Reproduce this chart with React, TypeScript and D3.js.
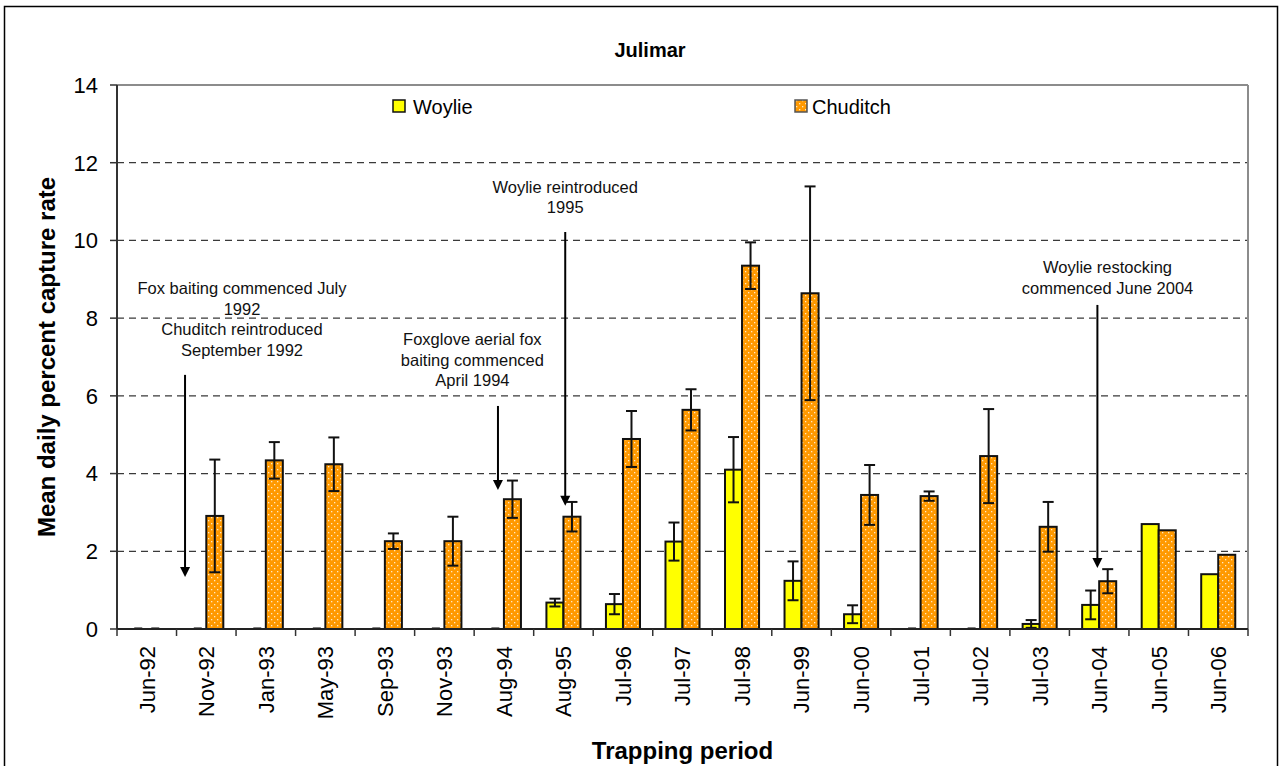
import React from "react";
import * as d3 from "d3";

// Trapping periods (x axis)
const categories = [
  "Jun-92", "Nov-92", "Jan-93", "May-93", "Sep-93", "Nov-93", "Aug-94", "Aug-95",
  "Jul-96", "Jul-97", "Jul-98", "Jun-99", "Jun-00", "Jul-01", "Jul-02", "Jul-03",
  "Jun-04", "Jun-05", "Jun-06",
];

// Mean daily percent capture rate and standard error, per species
const woylie = [0, 0, 0, 0, 0, 0, 0, 0.68, 0.64, 2.25, 4.1, 1.24, 0.38, 0, 0, 0.13, 0.62, 2.7, 1.41];
const woylieErr = [0, 0, 0, 0, 0, 0, 0, 0.1, 0.26, 0.49, 0.84, 0.5, 0.23, 0, 0, 0.1, 0.37, 0, 0];
const chuditch = [0, 2.91, 4.34, 4.24, 2.26, 2.26, 3.34, 2.89, 4.89, 5.64, 9.35, 8.64, 3.45, 3.42, 4.45, 2.63, 1.23, 2.54, 1.91];
const chuditchErr = [0, 1.45, 0.47, 0.69, 0.2, 0.63, 0.48, 0.38, 0.72, 0.53, 0.6, 2.75, 0.77, 0.12, 1.21, 0.64, 0.31, 0, 0];

const yTicks = [0, 2, 4, 6, 8, 10, 12, 14];

// Management events: text lines centred at a category-index position,
// with an arrow pointing down to a value.
const annotations = [
  { lines: ["Fox baiting commenced July", "1992", "Chuditch reintroduced", "September 1992"], tx: 2.1, ty: 8.62, arrowX: 1.143, arrowFrom: 6.54, arrowTo: 1.34 },
  { lines: ["Foxglove aerial fox", "baiting commenced", "April 1994"], tx: 5.97, ty: 7.31, arrowX: 6.4, arrowFrom: 5.74, arrowTo: 3.58 },
  { lines: ["Woylie reintroduced", "1995"], tx: 7.53, ty: 11.23, arrowX: 7.53, arrowFrom: 10.22, arrowTo: 3.17 },
  { lines: ["Woylie restocking", "commenced June 2004"], tx: 16.64, ty: 9.15, arrowX: 16.47, arrowFrom: 8.34, arrowTo: 1.57 },
];

const series = [
  { name: "Woylie", values: woylie, errors: woylieErr, fill: "#FFFF00" },
  { name: "Chuditch", values: chuditch, errors: chuditchErr, fill: "url(#dots)" },
];

const W = 1283;
const H = 766;
const left = 117;
const right = 1248;
const top = 85;
const bottom = 629;
const FONT = "'Liberation Sans', Arial, sans-serif";

export default function App() {
  const x0 = d3.scaleBand<string>().domain(categories).range([left, right]).padding(0);
  const bw = x0.bandwidth();
  const groupW = bw * 0.572;
  const x1 = d3
    .scaleBand<string>()
    .domain(series.map((s) => s.name))
    .range([bw / 2 - groupW / 2, bw / 2 + groupW / 2])
    .padding(0);
  const xIdx = d3.scaleLinear().domain([0, categories.length]).range([left, right]);
  const y = d3.scaleLinear().domain([0, 14]).range([bottom, top]);
  const lineGap = 20.6;

  return (
    <svg
      width={W}
      height={H}
      style={{ position: "absolute", left: 0, top: 0, background: "#fff" }}
      fontFamily={FONT}
    >
      <defs>
        <pattern id="dots" width="6" height="6" patternUnits="userSpaceOnUse">
          <rect width="6" height="6" fill="#FF9900" />
          <rect x="1" y="1" width="1.3" height="1.3" fill="#FFE9C4" />
          <rect x="4" y="4" width="1.3" height="1.3" fill="#FFE9C4" />
        </pattern>
      </defs>

      {/* outer chart frame */}
      <rect x={4.5} y={6.5} width={1273} height={H} fill="#fff" stroke="#000" strokeWidth={1.5} />

      {/* title */}
      <text x={650} y={57} textAnchor="middle" fontSize={20} fontWeight="bold">
        Julimar
      </text>

      {/* gridlines */}
      {yTicks
        .filter((t) => t > 0 && t < 14)
        .map((t) => (
          <line key={t} x1={left} x2={right} y1={y(t)} y2={y(t)} stroke="#3a3a3a" strokeWidth={1.3} strokeDasharray="7,5" />
        ))}

      {/* plot frame (top and right) */}
      <line x1={left} x2={right} y1={top} y2={top} stroke="#8c8c8c" strokeWidth={2} />
      <line x1={right} x2={right} y1={top} y2={bottom} stroke="#8c8c8c" strokeWidth={2} />

      {/* bars; zero values show as a short stub on the baseline */}
      {series.map((s) =>
        categories.map((c, i) => {
          const v = s.values[i];
          const bx = (x0(c) as number) + (x1(s.name) as number);
          const w = x1.bandwidth();
          if (v <= 0) {
            return (
              <line
                key={s.name + c}
                x1={bx + w / 2 - 4}
                x2={bx + w / 2 + 4}
                y1={y(0) - 1}
                y2={y(0) - 1}
                stroke="#555"
                strokeWidth={1.5}
              />
            );
          }
          return (
            <rect
              key={s.name + c}
              x={bx}
              y={y(v)}
              width={w}
              height={y(0) - y(v)}
              fill={s.fill}
              stroke="#111"
              strokeWidth={2}
            />
          );
        })
      )}

      {/* error bars */}
      {series.map((s) =>
        categories.map((c, i) => {
          const e = s.errors[i];
          if (!e) return null;
          const v = s.values[i];
          const cx = (x0(c) as number) + (x1(s.name) as number) + x1.bandwidth() / 2;
          const y1 = y(v + e);
          const y2 = y(Math.max(0, v - e));
          return (
            <g key={"e" + s.name + c} stroke="#111" strokeWidth={2}>
              <line x1={cx} x2={cx} y1={y1} y2={y2} />
              <line x1={cx - 5.5} x2={cx + 5.5} y1={y1} y2={y1} />
              <line x1={cx - 5.5} x2={cx + 5.5} y1={y2} y2={y2} />
            </g>
          );
        })
      )}

      {/* y axis */}
      <line x1={left} x2={left} y1={top} y2={bottom} stroke="#333" strokeWidth={2} />
      {yTicks.map((t) => (
        <g key={t}>
          <line x1={left - 7} x2={left} y1={y(t)} y2={y(t)} stroke="#333" strokeWidth={1.5} />
          <text x={left - 19} y={y(t)} dy="0.36em" textAnchor="end" fontSize={22}>
            {t}
          </text>
        </g>
      ))}

      {/* x axis */}
      <line x1={left} x2={right} y1={bottom} y2={bottom} stroke="#222" strokeWidth={2} />
      {d3.range(categories.length + 1).map((i) => (
        <line key={i} x1={xIdx(i)} x2={xIdx(i)} y1={bottom} y2={bottom + 7} stroke="#333" strokeWidth={1.5} />
      ))}
      {categories.map((c) => {
        const cx = (x0(c) as number) + bw / 2;
        return (
          <text key={c} transform={`translate(${cx},${646}) rotate(-90)`} textAnchor="end" dy="0.36em" fontSize={22}>
            {c}
          </text>
        );
      })}

      {/* axis titles */}
      <text x={(left + right) / 2} y={759} textAnchor="middle" fontSize={24} fontWeight="bold">
        Trapping period
      </text>
      <text transform={`translate(46,${(top + bottom) / 2}) rotate(-90)`} textAnchor="middle" dy="0.36em" fontSize={24} fontWeight="bold">
        Mean daily percent capture rate
      </text>

      {/* legend */}
      <rect x={393} y={100} width={12} height={12} fill="#FFFF00" stroke="#111" strokeWidth={1.5} />
      <text x={413} y={114} fontSize={20}>Woylie</text>
      <rect x={795} y={100} width={12} height={12} fill="url(#dots)" stroke="#555" strokeWidth={1.5} />
      <text x={812} y={114} fontSize={20}>Chuditch</text>

      {/* annotations */}
      {annotations.map((a, k) => {
        const ax = xIdx(a.arrowX);
        const tipY = y(a.arrowTo);
        return (
          <g key={k}>
            {a.lines.map((ln, j) => (
              <text key={j} x={xIdx(a.tx)} y={y(a.ty) + j * lineGap} textAnchor="middle" fontSize={16.5} fill="#111">
                {ln}
              </text>
            ))}
            <line x1={ax} x2={ax} y1={y(a.arrowFrom)} y2={tipY - 8} stroke="#000" strokeWidth={2} />
            <path d={`M${ax - 5},${tipY - 10} L${ax + 5},${tipY - 10} L${ax},${tipY} Z`} fill="#000" />
          </g>
        );
      })}
    </svg>
  );
}
